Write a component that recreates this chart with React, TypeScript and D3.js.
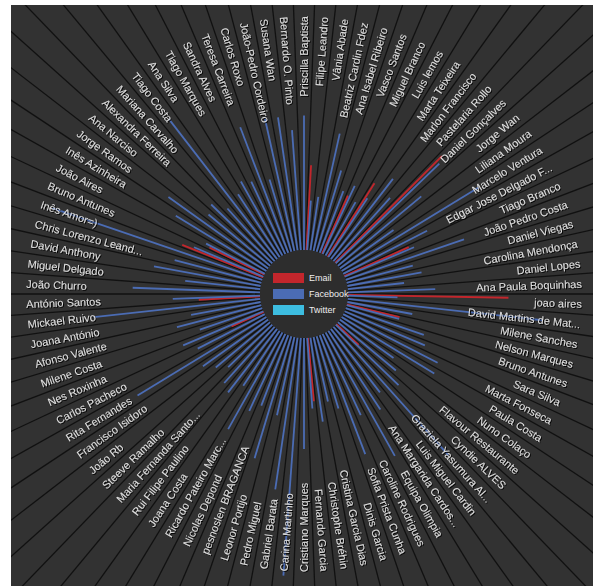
import * as d3 from 'd3';

const names = [
  'Priscilla Baptista', 'Filipe Leandro', 'Vânia Abade', 'Beatriz Cardin Fdez', 'Ana Isabel Ribeiro',
  'Vasco Santos', 'Miguel Branco', 'Luis lemos', 'Marta Teixeira', 'Marlon Francisco',
  'Pastelaria Rollo', 'Daniel Gonçalves', 'Jorge Wan', 'Liliana Moura', 'Marcelo Ventura',
  'Edgar Jose Delgado F...', 'Tiago Branco', 'João Pedro Costa', 'Daniel Viegas', 'Carolina Mendonça',
  'Daniel Lopes', 'Ana Paula Boquinhas', 'joao aires', 'David Martins de Mat...', 'Milene Sanches',
  'Nelson Marques', 'Bruno Antunes', 'Sara Silva', 'Marta Fonseca', 'Paula Costa',
  'Nuno Colaço', 'Flavour Restaurante', 'Cyndie ALVES', 'Graziela Yasumura Al...', 'Luis Miguel Cardin',
  'Ana Margarida Cardos...', 'Equipa Olimpia', 'Caroline Rodrigues', 'Sofia Prista Cunha', 'Dinis Garcia',
  'Cristina Garcia Dias', 'Christophe Bréhin', 'Fernando Garcia', 'Cristiano Marques', 'Carina Martinho',
  'Gabriel Barata', 'Pedro Miguel', 'Leonor Portijo', 'pesnoslen BRAGANCA', 'Nicolas Depond',
  'Ricardo Pateiro Marc...', 'Joana Costa', 'Rui Filipe Paulino', 'Maria Fernanda Santo...', 'Steeve Ramalho',
  'João Rb', 'Francisco Isidoro', 'Rita Fernandes', 'Carlos Pacheco', 'Nes Roxinha',
  'Milene Costa', 'Afonso Valente', 'Joana António', 'Mickael Ruivo', 'António Santos',
  'João Churro', 'Miguel Delgado', 'David Anthony', 'Chris Lorenzo Leand...', 'Inês Amor=)',
  'Bruno Antunes', 'João Aires', 'Inês Azinheira', 'Jorge Ramos', 'Ana Narciso',
  'Alexandra Ferreira', 'Mariana Carvalho', 'Tiago Costa', 'Ana Silva', 'Tiago Marques',
  'Sandra Alves', 'Teresa Carreira', 'Carlos Roxo', 'João-Pedro Cordeiro', 'Susana Wan',
  'Bernardo O. Pinto',
];

const facebook = [
  57, 21, 23, 51, 36, 28, 32, 26, 30, 43,
  36, 61, 46, 28, 68, 40, 32, 53, 29, 32,
  24, 37, 21, 83, 28, 23, 35, 37, 45, 46,
  28, 32, 37, 73, 34, 40, 60, 38, 54, 32,
  28, 36, 30, 47, 101, 65, 34, 54, 32, 36,
  47, 28, 34, 32, 26, 30, 34, 64, 32, 37,
  28, 37, 30, 71, 37, 54, 32, 46, 38, 94,
  32, 28, 45, 52, 34, 36, 30, 75, 32, 36,
  34, 57, 32, 58, 57, 51,
];

const email = [
  0, 36, 0, 0, 0, 0, 27, 0, 37, 0,
  0, 64, 0, 0, 0, 0, 30, 0, 0, 0,
  0, 0, 68, 0, 0, 23, 0, 0, 0, 0,
  0, 0, 13, 0, 0, 0, 0, 0, 0, 0,
  0, 0, 27, 0, 0, 0, 0, 0, 0, 0,
  0, 0, 0, 0, 0, 0, 0, 0, 0, 15,
  0, 0, 0, 0, 26, 0, 0, 0, 0, 0,
  37, 26, 0, 0, 0, 0, 0, 0, 0, 0,
  0, 0, 0, 0, 0, 0,
];

const twitter = [
  0, 0, 0, 0, 0, 0, 0, 0, 0, 0,
  0, 0, 0, 0, 0, 0, 0, 0, 0, 0,
  0, 0, 0, 0, 0, 0, 0, 0, 0, 0,
  0, 0, 0, 0, 0, 0, 0, 0, 0, 0,
  0, 0, 0, 0, 0, 0, 0, 0, 0, 0,
  0, 0, 0, 0, 0, 0, 0, 0, 0, 0,
  0, 0, 0, 0, 0, 0, 0, 0, 0, 0,
  0, 0, 0, 0, 0, 0, 0, 0, 0, 0,
  0, 0, 0, 0, 0, 0,
];

const seriesNames = ['Email', 'Facebook', 'Twitter'];
const seriesColors = ['#c3262c', '#4b6cb4', '#3dbde0'];

const W = 582;
const H = 581;
const CX = 293;
const CY = 289;
const INNER = 44;
const OUTER = 280;
const LABEL_R = 278;

export default function App() {
  const idx = d3.range(names.length);
  const angle = d3.scaleBand<number>().domain(idx).range([0, 2 * Math.PI]).paddingInner(0).paddingOuter(0);
  const step = angle.bandwidth();
  const radius = d3.scaleLinear().domain([0, 100]).range([INNER, OUTER]);

  const pt = (r: number, a: number): [number, number] => [r * Math.sin(a), -r * Math.cos(a)];

  const series = [email, facebook, twitter];
  const offsets = [-step / 4, 0, step / 4];

  return (
    <div style={{ position: 'absolute', left: 11, top: 5 }}>
      <svg width={W} height={H} style={{ display: 'block', background: '#323232' }}>
        <defs>
          <filter id="txtShadow" x="-10%" y="-10%" width="120%" height="120%">
            <feDropShadow dx="1" dy="1" stdDeviation="0.5" floodColor="#000" floodOpacity="0.9" />
          </filter>
        </defs>
        <g transform={`translate(${CX},${CY})`}>
          {/* separators */}
          {idx.map(i => {
            const a = angle(i)! + step / 2;
            const [x1, y1] = pt(INNER, a);
            const [x2, y2] = pt(460, a);
            return <line key={`s${i}`} x1={x1} y1={y1} x2={x2} y2={y2} stroke="#111" strokeWidth={1.3} />;
          })}
          {/* bars */}
          {series.map((vals, s) =>
            idx.map(i => {
              if (!vals[i]) return null;
              const a = angle(i)! + offsets[s];
              const [x1, y1] = pt(INNER, a);
              const [x2, y2] = pt(radius(vals[i]), a);
              return (
                <line key={`b${s}-${i}`} x1={x1} y1={y1} x2={x2} y2={y2}
                  stroke={seriesColors[s]} strokeWidth={1.8} />
              );
            })
          )}
          {/* labels */}
          <g filter="url(#txtShadow)">
            {idx.map(i => {
              const deg = (angle(i)! * 180) / Math.PI;
              const right = deg < 179.99;
              const transform = right
                ? `rotate(${deg - 90}) translate(${LABEL_R},0)`
                : `rotate(${deg + 90}) translate(${-LABEL_R},0)`;
              return (
                <text key={`t${i}`} transform={transform} dy="0.35em"
                  textAnchor={right ? 'end' : 'start'}
                  fontFamily="'Liberation Sans', Arial, sans-serif" fontSize={11} fill="#dedede">
                  {names[i]}
                </text>
              );
            })}
          </g>
          {/* center */}
          <circle r={INNER} fill="#2d2d2d" />
          {seriesNames.map((n, s) => (
            <g key={n} transform={`translate(0,${(s - 1) * 16})`}>
              <rect x={-31} y={-5} width={31} height={10} fill={seriesColors[s]} />
              <text x={5} dy="0.35em" fontFamily="'Liberation Sans', Arial, sans-serif"
                fontSize={9} fill="#eee">{n}</text>
            </g>
          ))}
        </g>
      </svg>
    </div>
  );
}
